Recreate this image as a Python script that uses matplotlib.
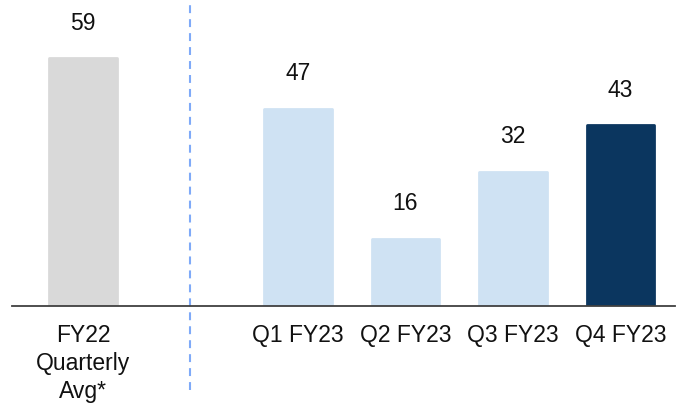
import matplotlib
matplotlib.use("Agg")
import matplotlib.pyplot as plt

# Data
categories = ["FY22\nQuarterly\nAvg*", "Q1 FY23", "Q2 FY23", "Q3 FY23", "Q4 FY23"]
values = [59, 47, 16, 32, 43]
positions = [0, 2, 3, 4, 5]
colors = ["#D9D9D9", "#CFE2F3", "#CFE2F3", "#CFE2F3", "#0B365F"]

plt.rcParams["font.family"] = ["Liberation Sans", "DejaVu Sans"]

fig = plt.figure(figsize=(6.79, 4.04), dpi=100)
ax = fig.add_axes([12 / 679, 98 / 404, 663 / 679, 306 / 404])

bars = ax.bar(positions, values, width=0.63, color=colors, edgecolor=colors,
              linewidth=2, zorder=2)
for b in bars:
    b.set_joinstyle("round")

for x, v in zip(positions, values):
    ax.annotate(f"{v}", xy=(x, v), xytext=(0, 20.5), textcoords="offset points",
                ha="center", va="baseline", fontsize=16.5, color="#111111")

ax.set_xlim(-0.66, 5.507)
ax.set_ylim(0, 72.86)

# Divider between prior-year average and current quarters
ax.plot([1, 1], [-20, 71.7], color="#7FAAF8", lw=1.5, dashes=(3.8, 2.9),
        clip_on=False, zorder=1)

ax.set_xticks(positions)
ax.set_xticklabels(categories, fontsize=16.5, color="#111111", linespacing=1.27)
ax.tick_params(axis="x", length=0, pad=13)
ax.set_yticks([])

for side in ["top", "left", "right"]:
    ax.spines[side].set_visible(False)
ax.spines["bottom"].set_color("#404040")
ax.spines["bottom"].set_linewidth(1.3)
ax.spines["bottom"].set_zorder(3)

fig.savefig("out.png", dpi=100)
